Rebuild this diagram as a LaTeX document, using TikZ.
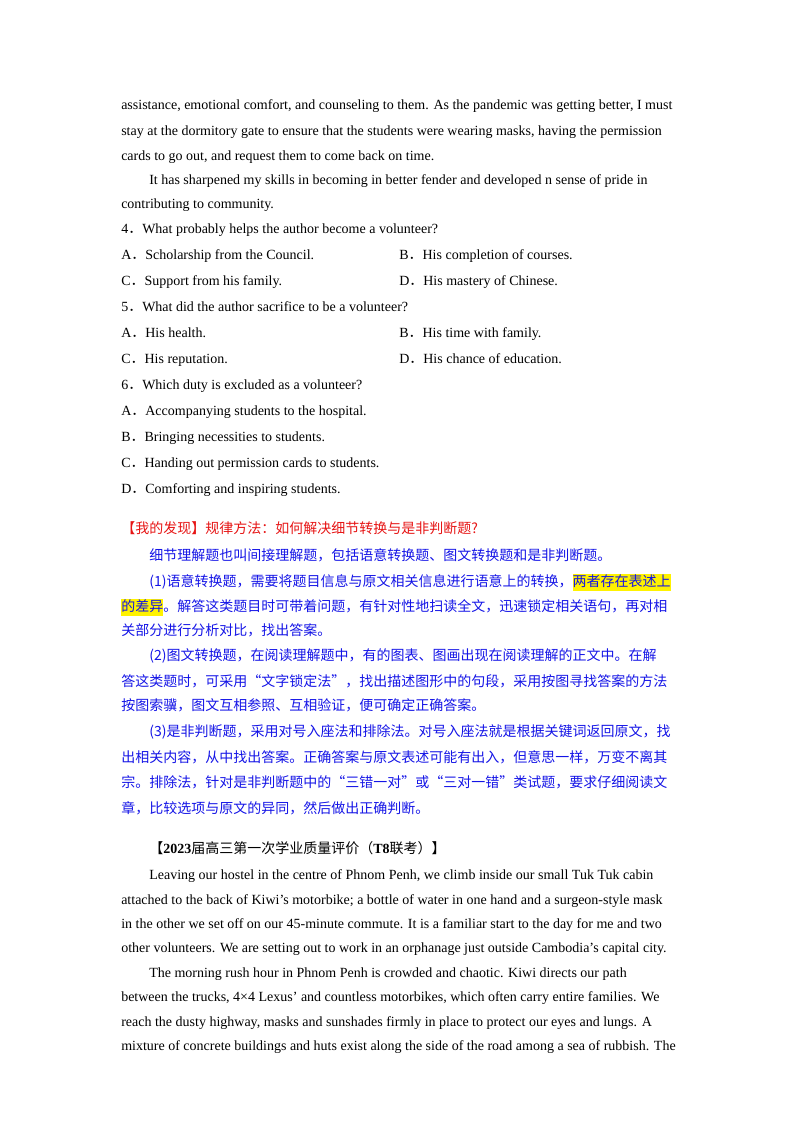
\documentclass[tikz,border=0pt]{standalone}
\usepackage{fontspec}
\setmainfont{Liberation Serif}
\newfontfamily\zh{Noto Sans CJK SC}
\XeTeXlinebreaklocale "zh"
\XeTeXlinebreakskip=0pt plus 3pt
\definecolor{myblue}{RGB}{20,20,230}
\definecolor{myred}{RGB}{230,20,20}
\newcommand{\hl}[1]{{\setlength{\fboxsep}{0pt}\colorbox{yellow}{\strut #1}}}
\newcommand{\jl}[2]{\hbox to #1{#2}}
\tikzset{ln/.style={anchor=base west,inner sep=0pt,font=\fontsize{10.5pt}{12pt}\selectfont}}
\begin{document}
\begin{tikzpicture}[x=0.75pt,y=-0.75pt]
\useasboundingbox (0,0) rectangle (800,1132);
\begin{scope}[yshift=-3.75pt]
\node[ln] (l1) at (121,104) {assistance, emotional comfort, and counseling to them. As the pandemic was getting better, I must};
\node[ln] (l2) at (121,130) {stay at the dormitory gate to ensure that the students were wearing masks, having the permission};
\node[ln] (l3) at (121,155) {cards to go out, and request them to come back on time.};
\node[ln] (l4) at (149,179) {It has sharpened my skills in becoming in better fender and developed n sense of pride in};
\node[ln] (l5) at (121,203) {contributing to community.};
\node[ln] (q4) at (121,228) {4{\zh ．}What probably helps the author become a volunteer?};
\node[ln] (q4a) at (121,254) {A{\zh ．}Scholarship from the Council.};
\node[ln] (q4b) at (399,254) {B{\zh ．}His completion of courses.};
\node[ln] (q4c) at (121,280) {C{\zh ．}Support from his family.};
\node[ln] (q4d) at (399,280) {D{\zh ．}His mastery of Chinese.};
\node[ln] (q5) at (121,306) {5{\zh ．}What did the author sacrifice to be a volunteer?};
\node[ln] (q5a) at (121,332) {A{\zh ．}His health.};
\node[ln] (q5b) at (399,332) {B{\zh ．}His time with family.};
\node[ln] (q5c) at (121,358) {C{\zh ．}His reputation.};
\node[ln] (q5d) at (399,358) {D{\zh ．}His chance of education.};
\node[ln] (q6) at (121,384) {6{\zh ．}Which duty is excluded as a volunteer?};
\node[ln] (q6a) at (121,410) {A{\zh ．}Accompanying students to the hospital.};
\node[ln] (q6b) at (121,436) {B{\zh ．}Bringing necessities to students.};
\node[ln] (q6c) at (121,462) {C{\zh ．}Handing out permission cards to students.};
\node[ln] (q6d) at (121,488) {D{\zh ．}Comforting and inspiring students.};
\node[ln,text=myred] (h) at (121,528) {\zh 【我的发现】规律方法：如何解决细节转换与是非判断题?};
\begin{scope}[every node/.append style={text=myblue}]
\node[ln] (c1) at (149,555) {\zh 细节理解题也叫间接理解题，包括语意转换题、图文转换题和是非判断题。};
\node[ln] (c2) at (149,581) {\zh\jl{397.5pt}{(1)语意转换题，需要将题目信息与原文相关信息进行语意上的转换，\hl{两者存在表述上}}};
\node[ln] (c3) at (121,606) {\zh\jl{418.5pt}{\hl{的差异}。解答这类题目时可带着问题，有针对性地扫读全文，迅速锁定相关语句，再对相}};
\node[ln] (c4) at (121,630) {\zh 关部分进行分析对比，找出答案。};
\node[ln] (c5) at (149,655) {\zh\jl{397.5pt}{(2)图文转换题，在阅读理解题中，有的图表、图画出现在阅读理解的正文中。在解}};
\node[ln] (c6) at (121,681) {\zh\jl{418.5pt}{答这类题时，可采用“文字锁定法”，找出描述图形中的句段，采用按图寻找答案的方法}};
\node[ln] (c7) at (121,705) {\zh 按图索骥，图文互相参照、互相验证，便可确定正确答案。};
\node[ln] (c8) at (149,731) {\zh\jl{397.5pt}{(3)是非判断题，采用对号入座法和排除法。对号入座法就是根据关键词返回原文，找}};
\node[ln] (c9) at (121,757) {\zh\jl{418.5pt}{出相关内容，从中找出答案。正确答案与原文表述可能有出入，但意思一样，万变不离其}};
\node[ln] (c10) at (121,782) {\zh\jl{418.5pt}{宗。排除法，针对是非判断题中的“三错一对”或“三对一错”类试题，要求仔细阅读文}};
\node[ln] (c11) at (121,808) {\zh 章，比较选项与原文的异同，然后做出正确判断。};
\end{scope}
\node[ln] (t) at (149,848) {{\zh 【}\textbf{2023}{\zh 届高三第一次学业质量评价（}\textbf{T8}{\zh 联考）】}};
\node[ln] (p1) at (149,874) {Leaving our hostel in the centre of Phnom Penh, we climb inside our small Tuk Tuk cabin};
\node[ln] (p2) at (121,899) {attached to the back of Kiwi’s motorbike; a bottle of water in one hand and a surgeon-style mask};
\node[ln] (p3) at (121,923) {in the other we set off on our 45-minute commute. It is a familiar start to the day for me and two};
\node[ln] (p4) at (121,947) {other volunteers. We are setting out to work in an orphanage just outside Cambodia’s capital city.};
\node[ln] (p5) at (149,972) {The morning rush hour in Phnom Penh is crowded and chaotic. Kiwi directs our path};
\node[ln] (p6) at (121,996) {between the trucks, 4×4 Lexus’ and countless motorbikes, which often carry entire families. We};
\node[ln] (p7) at (121,1021) {reach the dusty highway, masks and sunshades firmly in place to protect our eyes and lungs. A};
\node[ln] (p8) at (121,1045) {mixture of concrete buildings and huts exist along the side of the road among a sea of rubbish. The};
\end{scope}
\end{tikzpicture}
\end{document}
